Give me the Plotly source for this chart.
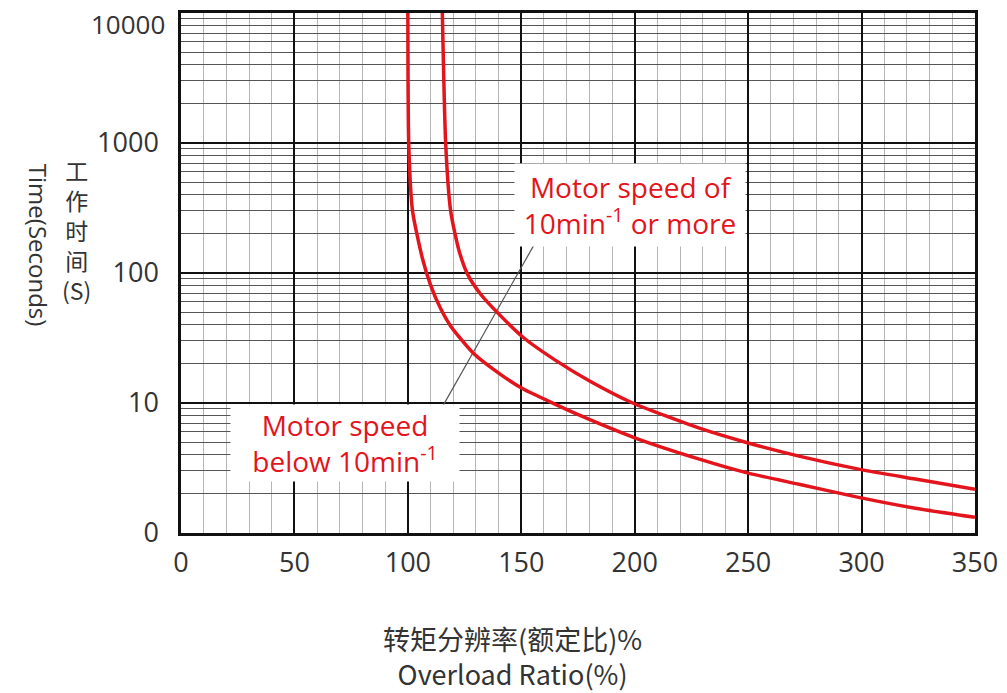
import plotly.graph_objects as go

# ---- data ----
ratio_low = [100, 100.4, 102.1, 106.4, 110.1, 114.5, 118.9, 129.0, 140.8, 150.9, 162.7, 174.6, 200, 228.5, 249.6, 272.4, 298.7, 323.7, 350]
time_low = [10000, 966, 297, 130, 80, 53, 39, 24, 16.6, 12.8, 10.2, 8.2, 5.4, 3.7, 2.9, 2.37, 1.88, 1.55, 1.32]

ratio_high = [115.2, 116.7, 118.9, 122.4, 126.3, 132.0, 140.8, 150.9, 165.8, 180.3, 199.1, 228.5, 249.6, 272.4, 298.7, 323.7, 350]
time_high = [10000, 966, 297, 152, 98, 69, 47, 31.9, 20.9, 14.7, 10.0, 6.4, 4.95, 3.9, 3.1, 2.6, 2.17]

leader_x = [157.5, 113.2]
leader_y = [188, 8.1]

x_ticks = [0, 50, 100, 150, 200, 250, 300, 350]
y_ticks = [1, 10, 100, 1000]
y_ticktext = ["0", "10", "100", "1000"]
y_top_tick = 10000
y_top_text = "10000"
y_minor = [m * 10 ** d for d in range(4) for m in range(2, 10)]

label_high = "Motor speed of<br>10min<sup>-1</sup> or more"
label_low = "Motor speed<br>below 10min<sup>-1</sup>"
ytitle_cn = "工<br>作<br>时<br>间<br>(S)"
ytitle_en = "Time(Seconds)"
xtitle = "转矩分辨率(额定比)%<br>Overload Ratio(%)"

RED = "#e3141c"
TXT = "#333333"

fig = go.Figure()
fig.add_trace(go.Scatter(x=leader_x, y=leader_y, mode="lines",
                         line=dict(color="#555555", width=1.2), hoverinfo="skip", showlegend=False))
fig.add_trace(go.Scatter(x=ratio_low, y=time_low, mode="lines",
                         line=dict(color=RED, width=3.5, shape="spline", smoothing=0.6), showlegend=False))
fig.add_trace(go.Scatter(x=ratio_high, y=time_high, mode="lines",
                         line=dict(color=RED, width=3.5, shape="spline", smoothing=0.6), showlegend=False))

fig.update_layout(
    template="none",
    width=999, height=685,
    margin=dict(l=173, r=32, t=5, b=160, autoexpand=False),
    paper_bgcolor="white", plot_bgcolor="white",
    font=dict(family="Open Sans, Noto Sans CJK SC", color=TXT),
    xaxis=dict(
        range=[0, 350], tickmode="array", tickvals=x_ticks, automargin=False,
        showgrid=True, gridcolor="#111111", gridwidth=1.5,
        minor=dict(dtick=10, tick0=0, showgrid=True, gridcolor="#b5b5b5", gridwidth=1),
        showline=True, mirror=True, linecolor="#111111", linewidth=2.5,
        zeroline=False, ticks="", ticklabelstandoff=4, ticklabeloverflow="allow",
        tickfont=dict(size=27, color=TXT, family="Open Sans"),
    ),
    yaxis=dict(
        type="log", range=[0, 4], tickmode="array", tickvals=y_ticks, ticktext=y_ticktext,
        automargin=False,
        showgrid=True, gridcolor="#111111", gridwidth=1.5,
        minor=dict(tickmode="array", tickvals=y_minor, showgrid=True, gridcolor="#555555", gridwidth=1.1),
        showline=True, mirror=True, linecolor="#111111", linewidth=2.5,
        zeroline=False, ticks="", ticklabelstandoff=14, ticklabeloverflow="allow",
        tickfont=dict(size=27, color=TXT, family="Open Sans"),
    ),
)

# top tick label, nudged down so it stays inside the page
fig.add_annotation(x=0, y=4, xref="paper", yref="y", text=y_top_text, showarrow=False,
                   xanchor="right", yanchor="middle", xshift=-14, yshift=-11,
                   font=dict(size=26, color=TXT, family="Open Sans"))

fig.add_annotation(x=197.8, y=2.52, xref="x", yref="y", text=label_high, showarrow=False,
                   xanchor="center", yanchor="middle",
                   font=dict(size=28, color=RED, family="Open Sans"), bgcolor="white",
                   width=228, height=80, align="center")
fig.add_annotation(x=72.4, y=0.695, xref="x", yref="y", text=label_low, showarrow=False,
                   xanchor="center", yanchor="middle",
                   font=dict(size=28, color=RED, family="Open Sans"), bgcolor="white",
                   width=226, height=74, align="center")

fig.add_annotation(x=-0.131, y=0.583, xref="paper", yref="paper", text=ytitle_cn, showarrow=False,
                   xanchor="center", yanchor="middle",
                   font=dict(size=23, color=TXT, family="Noto Sans CJK SC"), align="center")
fig.add_annotation(x=-0.18, y=0.554, xref="paper", yref="paper", text=ytitle_en, showarrow=False,
                   xanchor="center", yanchor="middle",
                   textangle=90, font=dict(size=24, color=TXT, family="Open Sans"))
fig.add_annotation(x=0.417, y=-0.2365, xref="paper", yref="paper", text=xtitle, showarrow=False,
                   xanchor="center", yanchor="middle",
                   font=dict(size=27, color=TXT, family="Noto Sans CJK SC"), align="center")

fig.write_html("out.html")
